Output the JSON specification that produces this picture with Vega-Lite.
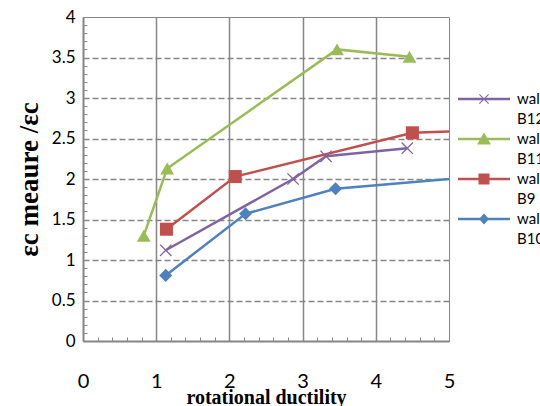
{
  "$schema": "https://vega.github.io/schema/vega-lite/v6.json",
  "width": 366,
  "height": 324,
  "autosize": "none",
  "padding": {"left": 83, "top": 17, "right": 91, "bottom": 65},
  "background": "white",
  "config": {
    "view": {"stroke": "#868686", "strokeWidth": 1},
    "axis": {"labelColor": "black", "titleColor": "black"},
    "legend": {
      "orient": "none", "legendX": 391, "legendY": 72, "title": null,
      "symbolSize": 400, "labelOffset": 23, "labelFontSize": 15, "labelFont": "Lato",
      "labelColor": "black", "labelBaseline": "alphabetic", "rowPadding": 2,
      "symbolStrokeWidth": 0
    }
  },
  "data": {
    "values": [
      {"series": "wall B12", "ductility": 1.13, "ratio": 1.12},
      {"series": "wall B12", "ductility": 2.87, "ratio": 2.0},
      {"series": "wall B12", "ductility": 3.32, "ratio": 2.28},
      {"series": "wall B12", "ductility": 4.43, "ratio": 2.38},
      {"series": "wall B11", "ductility": 0.83, "ratio": 1.3},
      {"series": "wall B11", "ductility": 1.15, "ratio": 2.13},
      {"series": "wall B11", "ductility": 3.47, "ratio": 3.6},
      {"series": "wall B11", "ductility": 4.46, "ratio": 3.51},
      {"series": "wall B9", "ductility": 1.14, "ratio": 1.38},
      {"series": "wall B9", "ductility": 2.08, "ratio": 2.03},
      {"series": "wall B9", "ductility": 4.5, "ratio": 2.57},
      {"series": "wall B9", "ductility": 5.5, "ratio": 2.6},
      {"series": "wall B10", "ductility": 1.13, "ratio": 0.81},
      {"series": "wall B10", "ductility": 2.22, "ratio": 1.57},
      {"series": "wall B10", "ductility": 3.45, "ratio": 1.88},
      {"series": "wall B10", "ductility": 5.5, "ratio": 2.04}
    ]
  },
  "encoding": {
    "x": {
      "field": "ductility", "type": "quantitative",
      "scale": {"domain": [0, 5], "nice": false, "zero": false},
      "axis": {
        "values": [0,0.2,0.4,0.6,0.8,1,1.2,1.4,1.6,1.8,2,2.2,2.4,2.6,2.8,3,3.2,3.4,3.6,3.8,4,4.2,4.4,4.6,4.8,5],
        "labelExpr": "abs(datum.value - round(datum.value)) < 0.001 ? format(datum.value, 'd') : ''",
        "labelOverlap": false, "labelFlush": false, "labelBound": false,
        "labelFont": "Lato", "labelFontSize": 20, "labelPadding": 34,
        "tickSize": -4, "tickColor": "#888888", "tickWidth": 1,
        "domainColor": "#868686", "domainWidth": 2,
        "grid": true, "gridColor": "#868686", "gridWidth": 1.5,
        "gridOpacity": {"condition": {"test": "abs(datum.value - round(datum.value)) < 0.001 && datum.value > 0.5 && datum.value < 4.5", "value": 1}, "value": 0},
        "title": "rotational ductility",
        "titleFont": "Liberation Serif", "titleFontWeight": "bold", "titleFontSize": 20,
        "titlePadding": -4
      }
    },
    "y": {
      "field": "ratio", "type": "quantitative",
      "scale": {"domain": [0, 4], "nice": false},
      "axis": {
        "values": [0,0.1,0.2,0.3,0.4,0.5,0.6,0.7,0.8,0.9,1,1.1,1.2,1.3,1.4,1.5,1.6,1.7,1.8,1.9,2,2.1,2.2,2.3,2.4,2.5,2.6,2.7,2.8,2.9,3,3.1,3.2,3.3,3.4,3.5,3.6,3.7,3.8,3.9,4],
        "labelExpr": "abs(datum.value*2 - round(datum.value*2)) < 0.001 ? format(datum.value, '.1~f') : ''",
        "labelOverlap": false, "labelFlush": false, "labelBound": false,
        "labelFont": "Lato", "labelFontSize": 17, "labelPadding": 12,
        "tickSize": -4, "tickColor": "#888888", "tickWidth": 1,
        "domainColor": "#868686", "domainWidth": 2,
        "grid": true, "gridColor": "#868686", "gridWidth": 1.5, "gridDash": [6, 3],
        "gridOpacity": {"condition": {"test": "abs(datum.value*2 - round(datum.value*2)) < 0.001 && datum.value > 0.1 && datum.value < 3.9", "value": 1}, "value": 0},
        "title": "εc meaure /εc",
        "titleFont": "Liberation Serif", "titleFontWeight": "bold", "titleFontSize": 27,
        "titlePadding": 8
      }
    },
    "color": {
      "field": "series", "type": "nominal",
      "scale": {"domain": ["wall B12", "wall B11", "wall B9", "wall B10"], "range": ["#8064A2", "#9BBB59", "#C0504D", "#4F81BD"]},
      "legend": {
        "labelExpr": "['wall', substring(datum.label, 5)]",
        "encoding": {"labels": {"dy": {"value": 5}, "lineHeight": {"value": 20}}}
      }
    }
  },
  "layer": [
    {
      "mark": {"type": "line", "strokeWidth": 2.5, "clip": true}
    },
    {
      "transform": [{"filter": "datum.series == 'wall B12'"}],
      "mark": {"type": "point", "filled": true, "opacity": 1, "size": 150, "clip": true, "shape": "M-0.85,-1L0,-0.15L0.85,-1L1,-0.85L0.15,0L1,0.85L0.85,1L0,0.15L-0.85,1L-1,0.85L-0.15,0L-1,-0.85Z"}
    },
    {
      "transform": [{"filter": "datum.series == 'wall B11'"}],
      "mark": {"type": "point", "filled": true, "opacity": 1, "size": 190, "clip": true, "shape": "triangle-up"}
    },
    {
      "transform": [{"filter": "datum.series == 'wall B9'"}],
      "mark": {"type": "point", "filled": true, "opacity": 1, "size": 170, "clip": true, "shape": "square"}
    },
    {
      "transform": [{"filter": "datum.series == 'wall B10'"}],
      "mark": {"type": "point", "filled": true, "opacity": 1, "size": 170, "clip": true, "shape": "diamond"}
    },
    {
      "transform": [{"filter": "false"}],
      "mark": {"type": "point", "filled": true, "opacity": 1, "clip": true},
      "encoding": {
        "shape": {
          "field": "series", "type": "nominal",
          "scale": {"domain": ["wall B12", "wall B11", "wall B9", "wall B10"], "range": [
            "M-2.6,-0.12H2.6V0.12H-2.6Z M-0.425,-0.5L0,-0.075L0.425,-0.5L0.5,-0.425L0.075,0L0.5,0.425L0.425,0.5L0,0.075L-0.425,0.5L-0.5,0.425L-0.075,0L-0.5,-0.425Z",
            "M-2.6,-0.12H2.6V0.12H-2.6Z M0,-0.65L0.7,0.55L-0.7,0.55Z",
            "M-2.6,-0.12H2.6V0.12H-2.6Z M-0.55,-0.55H0.55V0.55H-0.55Z",
            "M-2.6,-0.12H2.6V0.12H-2.6Z M0,-0.55L0.5,0L0,0.55L-0.5,0Z"
          ]},
          "legend": {
            "labelExpr": "['wall', substring(datum.label, 5)]",
            "encoding": {"labels": {"dy": {"value": 5}, "lineHeight": {"value": 20}}}
          }
        }
      }
    }
  ]
}
